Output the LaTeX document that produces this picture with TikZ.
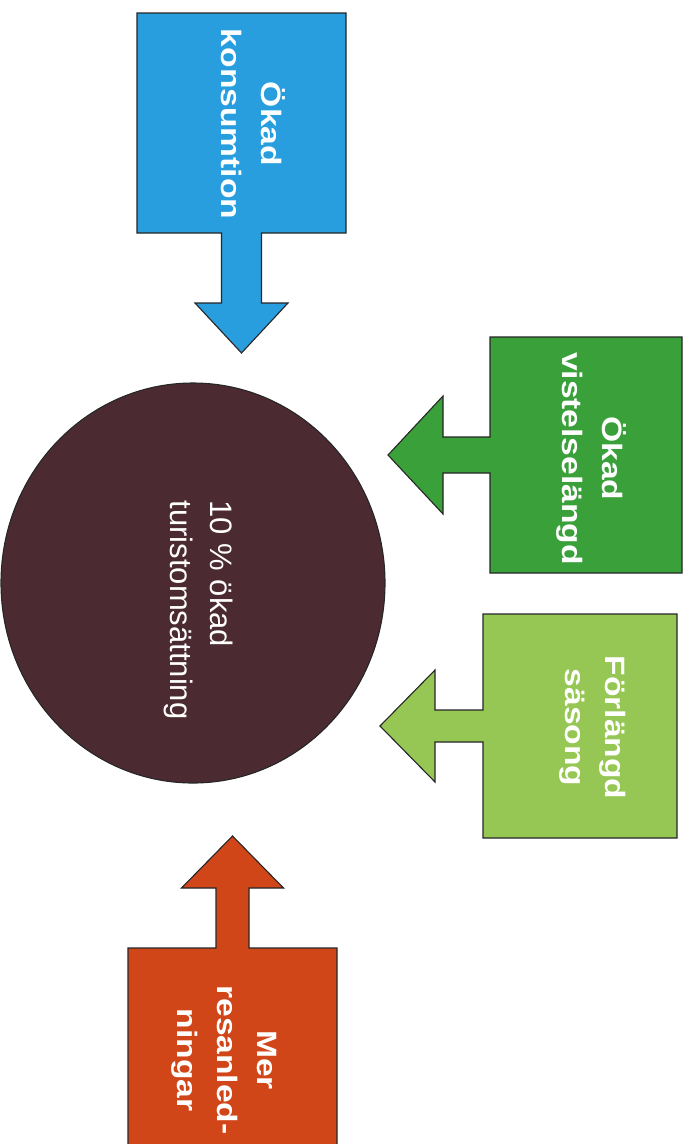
\documentclass[tikz,border=0pt]{standalone}
\usepackage{fontspec}
\setmainfont{Liberation Sans}
\newfontfamily\boxfont{Liberation Sans}[FakeStretch=1.2]
\usetikzlibrary{shapes.geometric, calc}

\definecolor{konsumblue}{RGB}{40,158,222}
\definecolor{vistelsegreen}{RGB}{58,160,58}
\definecolor{sasonggreen}{RGB}{150,198,84}
\definecolor{resaorange}{RGB}{208,70,24}
\definecolor{goalbrown}{RGB}{76,42,50}

\begin{document}
\begin{tikzpicture}[
        x=1pt, y=-1pt,
        area/.style={rectangle, inner sep=0, outer sep=0},
        form/.style={draw=black!85, line width=1.1pt, line join=miter},
        goal/.style={ellipse, inner sep=0, fill=goalbrown, draw=black!85, line width=1.1pt,
            minimum width=384pt, minimum height=400pt},
        boxtext/.style={rotate=-90, align=center, text=white, inner sep=0,
            font=\boxfont\bfseries\fontsize{28}{40}\selectfont},
        goaltext/.style={rotate=-90, align=left, text=white, inner sep=0,
            font=\fontsize{31}{40}\selectfont},
    ]
        \useasboundingbox (0,0) rectangle (692,1144);
        \clip (0,0) rectangle (692,1144);

        \node[goal] (goal) at (193,583) {};
        \node[goaltext] (goal-text) at (198.5,610) {10 \% ökad\\turistomsättning};

        \node[area, minimum width=209pt, minimum height=220pt] (konsum) at (241.5,123) {};
        \node[area, minimum width=192pt, minimum height=236pt] (vistelse) at (586,455) {};
        \node[area, minimum width=194pt, minimum height=224pt] (sasong) at (580,726) {};
        \node[area, minimum width=209pt, minimum height=224pt] (resa) at (232.5,1060) {};

        \path[form, fill=konsumblue] (konsum.north west) -- (konsum.north east) -- (konsum.south east)
            -- ([xshift=20pt]konsum.south) -- ++(0,70) -- ++(26.5,0) -- ++(-46.5,50)
            -- ++(-46.5,-50) -- ++(26.5,0) -- ++(0,-70) -- (konsum.south west) -- cycle;
        \path[form, fill=vistelsegreen] (vistelse.north west) -- (vistelse.north east)
            -- (vistelse.south east) -- (vistelse.south west)
            -- ([yshift=-18pt]vistelse.west) -- ++(-47,0) -- ++(0,41) -- ++(-55,-59)
            -- ++(55,-59) -- ++(0,41) -- ++(47,0) -- cycle;
        \path[form, fill=sasonggreen] (sasong.north west) -- (sasong.north east)
            -- (sasong.south east) -- (sasong.south west)
            -- ([yshift=-16pt]sasong.west) -- ++(-48,0) -- ++(0,40) -- ++(-55,-56)
            -- ++(55,-56) -- ++(0,40) -- ++(48,0) -- cycle;
        \path[form, fill=resaorange] (resa.south west) -- (resa.north west)
            -- ([xshift=-16.5pt]resa.north) -- ++(0,-60) -- ++(-34.5,0) -- ++(51,-52)
            -- ++(51,52) -- ++(-34.5,0) -- ++(0,60) -- (resa.north east) -- (resa.south east) -- cycle;

        \node[boxtext] (konsum-text) at (253.5,124) {Ökad\\konsumtion};
        \node[boxtext] (vistelse-text) at (591,458.5) {Ökad\\vistelselängd};
        \node[boxtext] (sasong-text) at (592.5,727.5) {Förlängd\\säsong};
        \node[boxtext] (resa-text) at (224,1060) {Mer\\resanled-\\ningar};
    \end{tikzpicture}
\end{document}
